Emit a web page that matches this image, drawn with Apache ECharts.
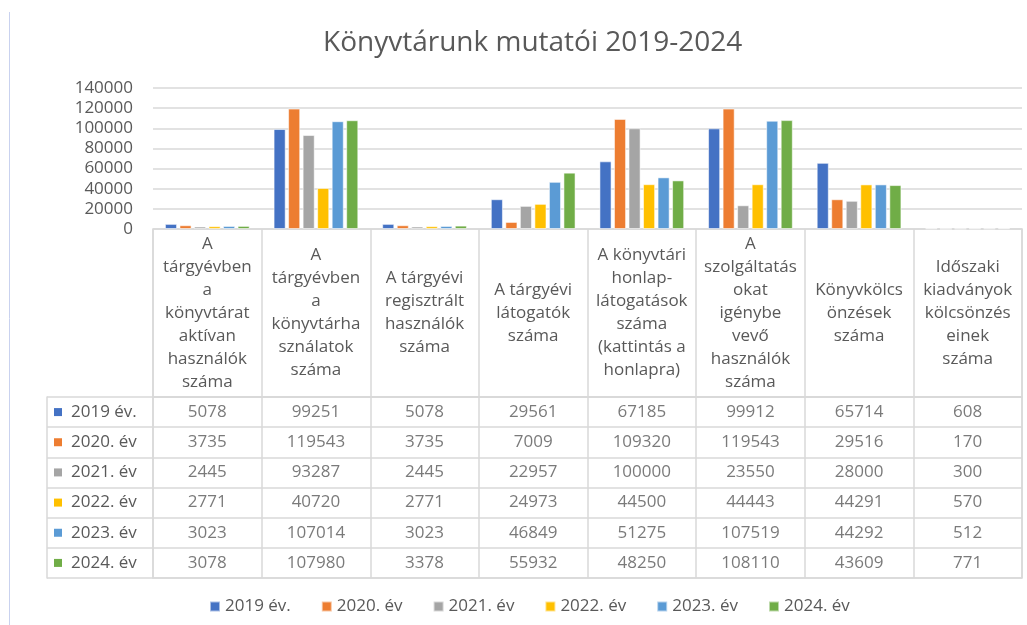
<!DOCTYPE html>
<html>
<head>
<meta charset="utf-8">
<script src="https://cdn.jsdelivr.net/npm/echarts@6/dist/echarts.min.js"></script>
<style>
  html, body { margin: 0; padding: 0; background: #fff; }
  #chart { width: 1027px; height: 625px; }
</style>
</head>
<body>
<div id="chart"></div>
<script>
// column headers (wrapped like the original table)
const categories = [
  'A\ntárgyévben\na\nkönyvtárat\naktívan\nhasználók\nszáma',
  'A\ntárgyévben\na\nkönyvtárha\nsználatok\nszáma',
  'A tárgyévi\nregisztrált\nhasználók\nszáma',
  'A tárgyévi\nlátogatók\nszáma',
  'A könyvtári\nhonlap-\nlátogatások\nszáma\n(kattintás a\nhonlapra)',
  'A\nszolgáltatás\nokat\nigénybe\nvevő\nhasználók\nszáma',
  'Könyvkölcs\nönzések\nszáma',
  'Időszaki\nkiadványok\nkölcsönzés\neinek\nszáma'
];

const years = ['2019 év.', '2020. év', '2021. év', '2022. év', '2023. év', '2024. év'];

const data2019 = [5078, 99251, 5078, 29561, 67185, 99912, 65714, 608];
const data2020 = [3735, 119543, 3735, 7009, 109320, 119543, 29516, 170];
const data2021 = [2445, 93287, 2445, 22957, 100000, 23550, 28000, 300];
const data2022 = [2771, 40720, 2771, 24973, 44500, 44443, 44291, 570];
const data2023 = [3023, 107014, 3023, 46849, 51275, 107519, 44292, 512];
const data2024 = [3078, 107980, 3378, 55932, 48250, 108110, 43609, 771];

const yTicks = [0, 20000, 40000, 60000, 80000, 100000, 120000, 140000];

const allData = [data2019, data2020, data2021, data2022, data2023, data2024];
const colors = ['#4472C4', '#ED7D31', '#A5A5A5', '#FFC000', '#5B9BD5', '#70AD47'];

const font = "'Open Sans', 'Noto Sans', sans-serif";
const textColor = '#595959';
const lineColor = '#d9d9d9';

const chart = echarts.init(document.getElementById('chart'));

// rich styles for the colored keys in the table's first column
const rich = { t: { fontSize: 17, fontFamily: font, color: textColor, padding: [0, 0, 0, 9] } };
colors.forEach((c, i) => {
  rich['b' + i] = { width: 8, height: 8, backgroundColor: c };
});

const barSeries = years.map((y, i) => ({
  name: y,
  type: 'bar',
  xAxisIndex: 0,
  yAxisIndex: 0,
  data: allData[i],
  barGap: '20%',
  barCategoryGap: '22%',
  itemStyle: { color: colors[i], borderColor: 'rgba(255,255,255,0.55)', borderWidth: 1 }
}));

// table cells: [column, row, value]
const cells = [];
allData.forEach((row, r) => {
  row.forEach((v, c) => cells.push([c, r, v]));
});

const option = {
  animation: false,
  color: colors,
  textStyle: { fontFamily: font },
  title: {
    text: 'Könyvtárunk mutatói 2019-2024',
    left: 318,
    top: 24,
    textStyle: { fontSize: 28, fontWeight: 'normal', color: textColor, fontFamily: font }
  },
  legend: {
    data: years,
    bottom: 5,
    left: 204,
    icon: 'rect',
    itemWidth: 10,
    itemHeight: 10,
    itemGap: 30,
    textStyle: { fontSize: 17, color: textColor, fontFamily: font }
  },
  graphic: [{
    type: 'line',
    shape: { x1: 9.5, y1: 12, x2: 9.5, y2: 625 },
    style: { stroke: '#c9d2ef', lineWidth: 1 },
    silent: true
  }],
  grid: [
    { left: 153, right: 5, top: 88, height: 141 },
    { left: 153, right: 5, top: 229, height: 168, show: true, borderColor: lineColor, borderWidth: 1.5 },
    { left: 153, right: 5, top: 397, height: 181, show: true, borderColor: lineColor, borderWidth: 1.5 }
  ],
  xAxis: [
    {
      gridIndex: 0, type: 'category', data: categories,
      axisLine: { show: false }, axisTick: { show: false },
      axisLabel: {
        interval: 0, margin: 84, verticalAlign: 'middle', lineHeight: 23,
        fontSize: 17, color: textColor, fontFamily: font
      }
    },
    {
      gridIndex: 1, type: 'category', data: categories,
      axisLine: { show: false }, axisTick: { show: false }, axisLabel: { show: false },
      splitLine: { show: true, interval: 0, lineStyle: { color: lineColor, width: 1.5 } }
    },
    {
      gridIndex: 2, type: 'category', data: categories,
      axisLine: { show: false }, axisTick: { show: false }, axisLabel: { show: false },
      splitLine: { show: true, interval: 0, lineStyle: { color: lineColor, width: 1.5 } }
    }
  ],
  yAxis: [
    {
      gridIndex: 0, type: 'value', min: 0, max: yTicks[yTicks.length - 1], interval: yTicks[1] - yTicks[0],
      axisLine: { show: false }, axisTick: { show: false },
      axisLabel: { fontSize: 17, color: textColor, fontFamily: font, margin: 20, formatter: v => String(v) },
      splitLine: { lineStyle: { color: lineColor, width: 1.5 } }
    },
    {
      gridIndex: 1, type: 'value', min: 0, max: 1,
      axisLine: { show: false }, axisTick: { show: false }, axisLabel: { show: false },
      splitLine: { show: false }
    },
    {
      gridIndex: 2, type: 'category', data: years, inverse: true,
      axisLine: { show: false },
      axisTick: { show: true, interval: 0, length: 106, lineStyle: { color: lineColor, width: 1.5 } },
      axisLabel: {
        interval: 0, margin: 99, align: 'left',
        formatter: (v, i) => '{b' + i + '|}{t|' + v + '}',
        rich: rich
      },
      splitLine: { show: true, interval: 0, lineStyle: { color: lineColor, width: 1.5 } }
    },
    {
      gridIndex: 2, type: 'category', data: years, inverse: true, position: 'left', offset: 106,
      axisLine: { show: true, lineStyle: { color: lineColor, width: 1.5 } },
      axisTick: { show: false }, axisLabel: { show: false }, splitLine: { show: false }
    }
  ],
  series: barSeries.concat([{
    name: 'table',
    type: 'scatter',
    xAxisIndex: 2,
    yAxisIndex: 2,
    symbolSize: 0,
    silent: true,
    data: cells,
    label: {
      show: true,
      position: 'inside',
      formatter: p => String(p.value[2]),
      fontSize: 17,
      color: textColor,
      fontFamily: font
    }
  }])
};

chart.setOption(option);
</script>
</body>
</html>
